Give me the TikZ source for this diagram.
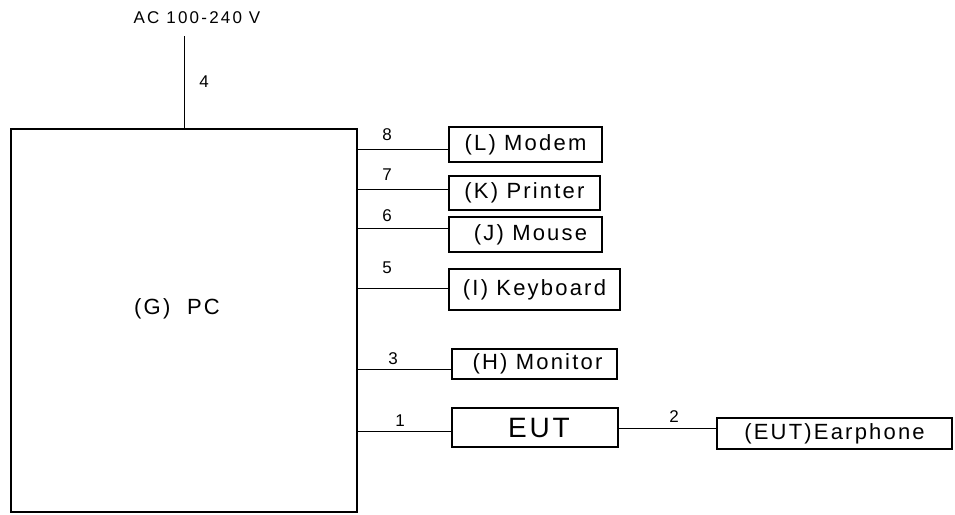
\documentclass[tikz,border=0pt]{standalone}
\usepackage{fontspec}
\setmainfont[LetterSpace=10]{Liberation Sans}
\newfontfamily\labelfont[LetterSpace=13]{Liberation Sans}
\usetikzlibrary{positioning}

\tikzset{
   devbox/.style={draw, line width=1.2pt, inner sep=0pt, font=\fontsize{22}{24}\selectfont},
   wire/.style={line width=1pt},
   portno/.style={inner sep=0pt, font=\labelfont\fontsize{17}{19}\selectfont}
}

\begin{document}
\begin{tikzpicture}[x=1pt, y=-1pt]
            \useasboundingbox (0,0) rectangle (955,514);
            % main PC box
            \node[draw, line width=1.8pt, minimum width=346pt, minimum height=383pt, inner sep=0pt] (pc) at (184,320.5) {};
            \node[inner sep=0pt, font=\fontsize{22}{24}\selectfont] (pclabel) at (177,309) {(G)\ \ PC};
            % power feed
            \coordinate (acin) at (184,36);
            \node[portno] (ac) at (197,18) {AC 100-240 V};
            \draw[wire] (pc.north) -- (acin);
            \node[portno] (n4) at (204,82) {4};
            % peripherals
            \node[devbox, minimum width=153pt, minimum height=35pt] (modem) at (525.5,144.5) {(L) Modem};
            \node[devbox, minimum width=151pt, minimum height=34pt] (printer) at (524.5,193) {(K) Printer};
            \node[devbox, minimum width=153pt, minimum height=35pt] (mouse) at (525.5,234.5) {\hspace{10pt}(J) Mouse};
            \node[devbox, minimum width=171pt, minimum height=41pt] (keyboard) at (534.5,289.5) {(I) Keyboard};
            \node[devbox, minimum width=165pt, minimum height=30pt] (monitor) at (534.5,364) {\hspace{6pt}(H) Monitor};
            \node[devbox, minimum width=166pt, minimum height=39pt, font=\fontsize{28}{30}\selectfont] (eut) at (535,427.5) {\hspace{8pt}EUT};
            \node[devbox, minimum width=235pt, minimum height=31pt] (earphone) at (834.5,433.5) {(EUT)Earphone};
            % cables
            \draw[wire] (pc.east |- 0,149) -- (modem.west |- 0,149);
            \draw[wire] (pc.east |- 0,189) -- (printer.west |- 0,189);
            \draw[wire] (pc.east |- 0,228) -- (mouse.west |- 0,228);
            \draw[wire] (pc.east |- 0,288) -- (keyboard.west |- 0,288);
            \draw[wire] (pc.east |- 0,369) -- (monitor.west |- 0,369);
            \draw[wire] (pc.east |- 0,431) -- (eut.west |- 0,431);
            \draw[wire] (eut.east |- 0,428) -- (earphone.west |- 0,428);
            \node[portno] (n8) at (387,135) {8};
            \node[portno] (n7) at (387,175) {7};
            \node[portno] (n6) at (387,216) {6};
            \node[portno] (n5) at (387,268) {5};
            \node[portno] (n3) at (393,359) {3};
            \node[portno] (n1) at (400,421) {1};
            \node[portno] (n2) at (674,417) {2};
         \end{tikzpicture}
\end{document}
